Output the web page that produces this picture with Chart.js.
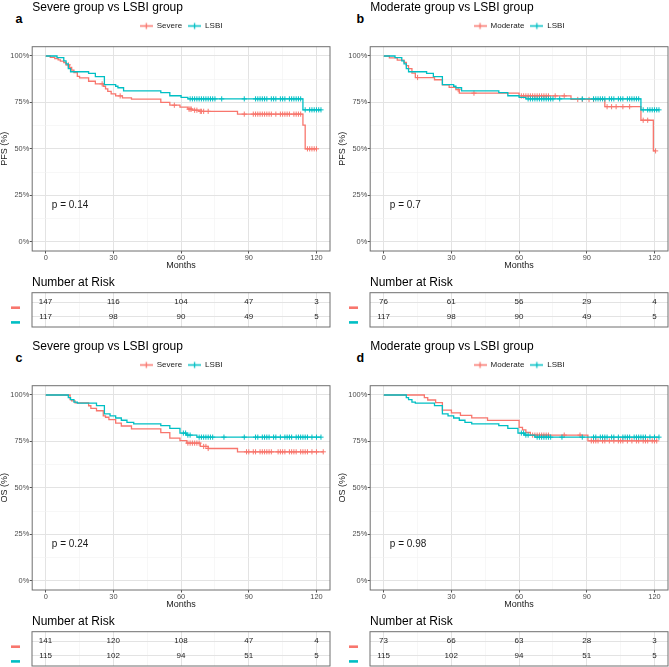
<!DOCTYPE html>
<html>
<head>
<meta charset="utf-8">
<script src="https://cdn.jsdelivr.net/npm/chart.js@4.4.1/dist/chart.umd.min.js"></script>
<style>
  html, body { margin: 0; padding: 0; background: #fff; overflow: hidden; }
  body { width: 669px; height: 667px; position: relative; font-family: 'Liberation Sans', Arial, sans-serif; }
  canvas { position: absolute; }
  .tag { position: absolute; font-weight: bold; font-size: 12.5px; line-height: 12px; color: #000; }
</style>
</head>
<body>
<script>
// ---- data ----
const groupColors = ['#F8766D', '#00BFC4'];

// x axis (months) and y axis (survival)
const xTickVals = [0, 30, 60, 90, 120];
const xMinorVals = [15, 45, 75, 105];
const yTickVals = [0, 0.25, 0.5, 0.75, 1];
const yTickLabels = ['0%', '25%', '50%', '75%', '100%'];
const yMinorVals = [0.125, 0.375, 0.625, 0.875];
const riskTimes = [0, 30, 60, 90, 120];

// PFS - Severe (panel a)
const pfsSevereT = [2, 4, 5.5, 6.5, 8, 9, 10.5, 11.5, 12.5, 14, 15, 19, 22, 25.5, 26.5, 27.5, 29, 31, 34, 38, 51, 55, 59.5, 63, 65, 68, 85, 114, 115];
const pfsSevereS = [0.993, 0.986, 0.979, 0.972, 0.965, 0.952, 0.938, 0.924, 0.910, 0.890, 0.882, 0.864, 0.850, 0.837, 0.823, 0.809, 0.796, 0.785, 0.775, 0.768, 0.750, 0.735, 0.725, 0.714, 0.708, 0.702, 0.687, 0.628, 0.500];
const pfsSevereC = [10, 25, 33, 57, 63.5, 64, 64.5, 66, 67, 68.5, 69, 70, 72, 88, 92, 93, 94, 95, 96, 97, 98, 99, 100, 102, 104, 105, 106, 107, 108, 110, 111, 112, 113, 116, 117, 118, 119, 120];

// PFS - LSBI (panels a, b)
const pfsLsbiT = [5, 8, 9, 10, 11, 19, 22, 26, 31, 32, 34.5, 51, 55, 60, 63, 114];
const pfsLsbiS = [0.991, 0.974, 0.957, 0.932, 0.915, 0.906, 0.889, 0.846, 0.837, 0.829, 0.812, 0.803, 0.786, 0.777, 0.769, 0.710];
const pfsLsbiC = [64, 65, 66, 67, 68, 69, 70, 71, 72, 73, 74, 75, 78, 88, 93, 94, 95, 96, 97, 98, 100, 101, 102, 104, 105, 106, 108, 109, 110, 111, 112, 113, 115, 117, 118, 119, 120, 121, 122];

// PFS - Moderate (panel b)
const pfsModT = [2.5, 6, 9, 10, 11, 12.5, 14, 22.5, 26, 29, 32, 33.5, 60, 83, 98, 114, 119.5];
const pfsModS = [0.990, 0.978, 0.965, 0.948, 0.932, 0.908, 0.884, 0.872, 0.844, 0.831, 0.819, 0.800, 0.785, 0.766, 0.727, 0.654, 0.489];
const pfsModC = [15, 33, 40, 61, 62, 63, 64, 65, 66, 67, 68, 69, 70, 71, 72, 73, 76, 80, 86, 88, 91, 93, 99, 101, 103, 106, 109, 115, 117, 120.5];

// OS - Severe (panel c)
const osSevereT = [10.8, 11.5, 13, 19, 20, 22.5, 25.5, 26.5, 28, 31, 33.5, 38, 51, 55, 59.5, 62.5, 68.5, 72, 85];
const osSevereS = [0.975, 0.968, 0.957, 0.942, 0.928, 0.915, 0.888, 0.880, 0.867, 0.849, 0.833, 0.817, 0.797, 0.768, 0.754, 0.741, 0.723, 0.712, 0.694];
const osSevereC = [63, 64, 65, 66, 67, 68, 70, 71, 72, 89, 90, 92, 93, 95, 96, 97, 98, 99, 100, 103, 104, 105, 106, 108, 109, 110, 111, 113, 114, 115, 116, 118, 120, 123];

// OS - LSBI (panels c, d)
const osLsbiT = [10, 11, 12.5, 14, 22.5, 26, 28.5, 31, 33.5, 36, 39, 51, 55, 59.5, 62.5, 67];
const osLsbiS = [0.986, 0.975, 0.962, 0.956, 0.943, 0.898, 0.888, 0.876, 0.864, 0.853, 0.844, 0.835, 0.820, 0.795, 0.784, 0.773];
const osLsbiC = [61, 62, 63, 64, 68, 69, 70, 71, 72, 73, 74, 79, 88, 93, 94, 96, 97, 98, 99, 101, 102, 104, 106, 107, 108, 109, 111, 112, 113, 114, 115, 116, 118, 120, 122];

// OS - Moderate (panel d)
const osModT = [18, 19.5, 23, 26, 30, 34, 39, 46, 60, 61.5, 63, 65, 90.5];
const osModS = [0.986, 0.973, 0.959, 0.918, 0.904, 0.890, 0.877, 0.863, 0.826, 0.812, 0.798, 0.784, 0.753];
const osModC = [66, 67, 68, 69, 70, 71, 72, 73, 80, 87, 92, 93, 94, 95, 97, 98, 100, 102, 104, 105, 106, 108, 110, 112, 113, 115, 116, 117, 119, 120, 121];

// number at risk
const riskA = [[147, 116, 104, 47, 3], [117, 98, 90, 49, 5]];
const riskB = [[76, 61, 56, 29, 4], [117, 98, 90, 49, 5]];
const riskC = [[141, 120, 108, 47, 4], [115, 102, 94, 51, 5]];
const riskD = [[73, 66, 63, 28, 3], [115, 102, 94, 51, 5]];

const panels = [
  { tag: 'a', ox: 0, oy: 0, tagX: 15.5, title: 'Severe group vs LSBI group', yTitle: 'PFS (%)', pText: 'p = 0.14',
    groups: ['Severe', 'LSBI'], T: [pfsSevereT, pfsLsbiT], S: [pfsSevereS, pfsLsbiS], C: [pfsSevereC, pfsLsbiC], risk: riskA },
  { tag: 'b', ox: 338, oy: 0, tagX: 356.5, title: 'Moderate group vs LSBI group', yTitle: 'PFS (%)', pText: 'p = 0.7',
    groups: ['Moderate', 'LSBI'], T: [pfsModT, pfsLsbiT], S: [pfsModS, pfsLsbiS], C: [pfsModC, pfsLsbiC], risk: riskB },
  { tag: 'c', ox: 0, oy: 339, tagX: 15.5, title: 'Severe group vs LSBI group', yTitle: 'OS (%)', pText: 'p = 0.24',
    groups: ['Severe', 'LSBI'], T: [osSevereT, osLsbiT], S: [osSevereS, osLsbiS], C: [osSevereC, osLsbiC], risk: riskC },
  { tag: 'd', ox: 338, oy: 339, tagX: 356.5, title: 'Moderate group vs LSBI group', yTitle: 'OS (%)', pText: 'p = 0.98',
    groups: ['Moderate', 'LSBI'], T: [osModT, osLsbiT], S: [osModS, osLsbiS], C: [osModC, osLsbiC], risk: riskD }
];

Chart.defaults.font.family = "'Liberation Sans', Arial, sans-serif";
Chart.defaults.animation = false;

const majorGrid = '#e3e3e3', minorGrid = '#f1f1f1';
const xGridVals = xTickVals.concat(xMinorVals).sort((a, b) => a - b);
const yGridVals = yTickVals.concat(yMinorVals).sort((a, b) => a - b);

function addCanvas(left, top, w, h) {
  const c = document.createElement('canvas');
  c.width = w; c.height = h;
  c.style.left = left + 'px'; c.style.top = top + 'px';
  c.style.width = w + 'px'; c.style.height = h + 'px';
  document.body.appendChild(c);
  return c;
}

function survAt(T, S, t) {
  let s = 1;
  T.forEach((tt, i) => { if (tt <= t) s = S[i]; });
  return s;
}

function legendIcon(color) {
  const c = document.createElement('canvas');
  c.width = 13; c.height = 9;
  const g = c.getContext('2d');
  g.strokeStyle = color; g.lineWidth = 1.3;
  g.beginPath();
  g.moveTo(0, 4.5); g.lineTo(13, 4.5);
  g.moveTo(6.5, 1.5); g.lineTo(6.5, 7.5);
  g.stroke();
  return c;
}

const isMajorX = v => xTickVals.indexOf(v) >= 0;
const isMajorY = v => yTickVals.some(t => Math.abs(t - v) < 1e-9);

// box round the panel
const framePlugin = {
  id: 'frame',
  afterDraw(chart) {
    const a = chart.chartArea, ctx = chart.ctx;
    ctx.save();
    ctx.strokeStyle = '#6f6f6f';
    ctx.lineWidth = 1;
    ctx.strokeRect(a.left, a.top, a.right - a.left, a.bottom - a.top);
    ctx.restore();
  }
};

function xScale(extra) {
  return Object.assign({
    type: 'linear', min: -6, max: 126, bounds: 'data',
    afterBuildTicks: s => { s.ticks = xGridVals.map(v => ({ value: v })); },
    grid: {
      color: c => isMajorX(c.tick.value) ? majorGrid : minorGrid,
      lineWidth: c => isMajorX(c.tick.value) ? 1 : 0.6,
      tickColor: c => isMajorX(c.tick.value) ? '#555' : 'rgba(0,0,0,0)',
      tickLength: 2.5
    },
    border: { display: false }
  }, extra);
}

function kmChart(p) {
  const cv = addCanvas(p.ox, p.oy, 335, 270);
  const curves = p.groups.map((g, i) => {
    const T = p.T[i], S = p.S[i], C = p.C[i];
    const last = Math.max(T[T.length - 1], C[C.length - 1]);
    const pts = [{ x: 0, y: 1 }].concat(T.map((t, k) => ({ x: t, y: S[k] })));
    pts.push({ x: last, y: S[S.length - 1] });
    return {
      label: g, data: pts, borderColor: groupColors[i], backgroundColor: groupColors[i],
      borderWidth: 1.3, stepped: true, pointRadius: 0, pointHoverRadius: 0,
      pointStyle: legendIcon(groupColors[i]), fill: false, order: 2 - i
    };
  });
  const censors = p.groups.map((g, i) => ({
    label: g + ' censored', censor: true,
    data: p.C[i].map(t => ({ x: t, y: survAt(p.T[i], p.S[i], t) })),
    showLine: false, pointStyle: 'cross', pointRadius: 2.6, pointHoverRadius: 2.6,
    borderColor: groupColors[i], backgroundColor: groupColors[i], borderWidth: 1, order: 2 - i
  }));

  const pPlugin = {
    id: 'pvalue',
    afterDraw(chart) {
      const ctx = chart.ctx;
      ctx.save();
      ctx.font = "10px 'Liberation Sans', Arial, sans-serif";
      ctx.fillStyle = '#1a1a1a';
      ctx.textAlign = 'left';
      ctx.textBaseline = 'middle';
      ctx.fillText(p.pText, chart.scales.x.getPixelForValue(2.7), chart.scales.y.getPixelForValue(0.196));
      ctx.restore();
    }
  };

  return new Chart(cv, {
    type: 'line',
    data: { datasets: curves.concat(censors) },
    options: {
      responsive: false,
      layout: { padding: { left: 0, right: 5, top: 0, bottom: 0 } },
      plugins: {
        title: {
          display: true, text: p.title, align: 'start', fullSize: false, color: '#000',
          font: { size: 12, weight: 'normal', lineHeight: 1 }, padding: { top: 1.8, bottom: 2.2 }
        },
        legend: {
          display: true, position: 'top', fullSize: false,
          labels: {
            usePointStyle: true, pointStyleWidth: 13, boxHeight: 8, padding: 6,
            font: { size: 8 }, color: '#1a1a1a',
            filter: (item, data) => !data.datasets[item.datasetIndex].censor,
            sort: (a, b) => a.datasetIndex - b.datasetIndex
          }
        },
        tooltip: { enabled: false }
      },
      scales: {
        x: xScale({
          afterFit: s => { s.height = 19; },
          ticks: {
            autoSkip: false, maxRotation: 0, padding: 0.5, color: '#4d4d4d', font: { size: 7.4 },
            callback: v => isMajorX(v) ? String(v) : ''
          },
          title: { display: true, text: 'Months', color: '#1a1a1a', font: { size: 9, lineHeight: 1 }, padding: 0 }
        }),
        xTop: {
          type: 'linear', position: 'top', display: true,
          grid: { display: false, drawTicks: false }, border: { display: false },
          ticks: { display: false },
          afterFit: s => { s.height = 6.7; }
        },
        y: {
          type: 'linear', min: -0.05, max: 1.05, bounds: 'data',
          afterBuildTicks: s => { s.ticks = yGridVals.map(v => ({ value: v })); },
          afterFit: s => { s.width = 32.2; },
          grid: {
            color: c => isMajorY(c.tick.value) ? majorGrid : minorGrid,
            lineWidth: c => isMajorY(c.tick.value) ? 1 : 0.6,
            tickColor: c => isMajorY(c.tick.value) ? '#555' : 'rgba(0,0,0,0)',
            tickLength: 2.5
          },
          border: { display: false },
          ticks: {
            autoSkip: false, padding: 0.5, color: '#4d4d4d', font: { size: 7.4 },
            callback: v => {
              const k = yTickVals.findIndex(t => Math.abs(t - v) < 1e-9);
              return k >= 0 ? yTickLabels[k] : '';
            }
          },
          title: { display: true, text: p.yTitle, color: '#1a1a1a', font: { size: 9, lineHeight: 1 }, padding: { top: 0.5, bottom: 0 } }
        }
      }
    },
    plugins: [framePlugin, pPlugin]
  });
}

function riskChart(p) {
  const cv = addCanvas(p.ox, p.oy + 277, 335, 53);
  const riskPlugin = {
    id: 'riskText',
    afterDraw(chart) {
      const ctx = chart.ctx, xs = chart.scales.x, ys = chart.scales.y;
      ctx.save();
      ctx.font = "8px 'Liberation Sans', Arial, sans-serif";
      ctx.textAlign = 'center';
      ctx.textBaseline = 'middle';
      p.risk.forEach((row, r) => {
        ctx.fillStyle = '#222';
        row.forEach((n, j) => {
          ctx.fillText(String(n), xs.getPixelForValue(riskTimes[j]), ys.getPixelForValue(r));
        });
        // colour key left of the table
        ctx.fillStyle = groupColors[r];
        ctx.fillRect(11, ys.getPixelForValue(r) + 4.4, 9, 2.6);
      });
      ctx.restore();
    }
  };
  return new Chart(cv, {
    type: 'line',
    data: { datasets: [] },
    options: {
      responsive: false,
      layout: { padding: { left: 32, right: 5, top: 0, bottom: 3 } },
      plugins: {
        legend: { display: false },
        tooltip: { enabled: false },
        title: {
          display: true, text: 'Number at Risk', align: 'start', fullSize: false, color: '#000',
          font: { size: 12, weight: 'normal', lineHeight: 1 }, padding: { top: 0, bottom: 3.7 }
        }
      },
      scales: {
        x: xScale({
          afterFit: s => { s.height = 0; },
          ticks: { display: false },
          grid: {
            color: c => isMajorX(c.tick.value) ? majorGrid : minorGrid,
            lineWidth: c => isMajorX(c.tick.value) ? 1 : 0.6,
            drawTicks: false
          }
        }),
        y: {
          type: 'linear', min: -0.633, max: 1.7, reverse: true, bounds: 'data',
          afterBuildTicks: s => { s.ticks = p.risk.map((r, i) => ({ value: i })); },
          afterFit: s => { s.width = 0; },
          grid: { color: majorGrid, lineWidth: 1, drawTicks: false },
          border: { display: false },
          ticks: { display: false }
        }
      }
    },
    plugins: [framePlugin, riskPlugin]
  });
}

panels.forEach(p => {
  const tag = document.createElement('div');
  tag.className = 'tag';
  tag.textContent = p.tag;
  tag.style.left = p.tagX + 'px';
  tag.style.top = (p.oy + 12.5) + 'px';
  document.body.appendChild(tag);
  kmChart(p);
  riskChart(p);
});
</script>
</body>
</html>
